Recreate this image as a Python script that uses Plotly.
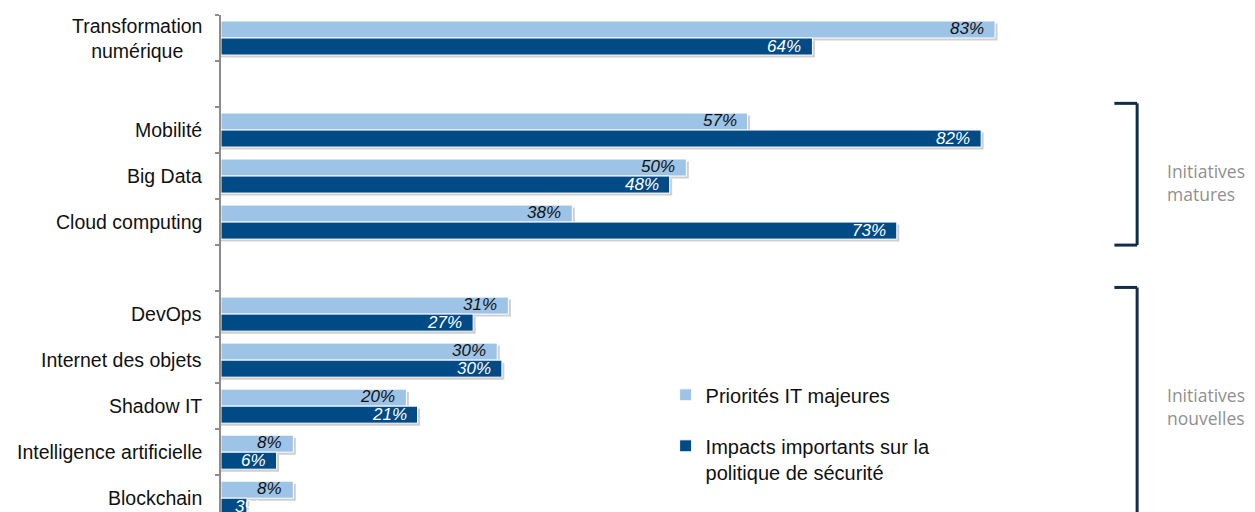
import plotly.graph_objects as go

categories = ["Transformation<br>numérique", None, "Mobilité", "Big Data", "Cloud computing", None,
              "DevOps", "Internet des objets", "Shadow IT", "Intelligence artificielle", "Blockchain"]
# bar lengths
priorites = [83.5, None, 56.8, 50.2, 37.9, None, 31.0, 29.8, 20.0, 7.8, 7.8]
impacts = [63.8, None, 82.0, 48.4, 72.9, None, 27.2, 30.3, 21.2, 6.0, 2.8]
# printed percentages
priorites_labels = ["83%", None, "57%", "50%", "38%", None, "31%", "30%", "20%", "8%", "8%"]
impacts_labels = ["64%", None, "82%", "48%", "73%", None, "27%", "30%", "21%", "6%", "3%"]
series_names = ["Priorités IT majeures", "Impacts importants sur la<br>politique de sécurité"]
groups = [("Initiatives<br>matures", 2, 4, False), ("Initiatives<br>nouvelles", 6, 10, True)]

LIGHT = "#9dc3e6"
DARK = "#004a86"
FONT = "Liberation Sans, Arial, sans-serif"
pos = list(range(len(categories)))
BARGAP = 0.26
PX_X = 9.27   # pixels per percent
PX_Y = 46.0   # pixels per category slot

fig = go.Figure()
fig.add_trace(go.Bar(y=pos, x=priorites, orientation="h", name=series_names[0],
                     marker=dict(color=LIGHT, line=dict(color="white", width=1)),
                     legendgroup="a"))
fig.add_trace(go.Bar(y=pos, x=impacts, orientation="h", name=series_names[1],
                     marker=dict(color=DARK, line=dict(color="white", width=1)),
                     legendgroup="b"))

half = (1 - BARGAP) / 2
off = half / 2
ann = []
shapes = []
for i in pos:
    for val, txt, yc, col, ys in ((priorites[i], priorites_labels[i], i - off, "#111111", 1.5),
                                  (impacts[i], impacts_labels[i], i + off, "white", 0)):
        if val is None:
            continue
        shapes.append(dict(type="rect", xref="x", yref="y", layer="below",
                           x0=0, x1=val + 2.5 / PX_X,
                           y0=yc - half / 2 + 2.5 / PX_Y, y1=yc + half / 2 + 2.5 / PX_Y,
                           fillcolor="#cfcfcf", line=dict(width=0)))
        if val * PX_X < 45:
            ann.append(dict(x=0, y=yc, xref="x", yref="y", text=txt, showarrow=False,
                            xanchor="left", xshift=12, yshift=ys,
                            font=dict(family=FONT, size=17, color=col, style="italic")))
        else:
            ann.append(dict(x=val, y=yc, xref="x", yref="y", text=txt, showarrow=False,
                            xanchor="right", xshift=-9, yshift=ys,
                            font=dict(family=FONT, size=17, color=col, style="italic")))
for i, c in enumerate(categories):
    if c:
        ann.append(dict(x=0, y=i, xref="x", yref="y", text=c, showarrow=False, align="center",
                        xanchor="right", xshift=-17,
                        font=dict(family=FONT, size=19.5, color="#111111")))

for label, a, b, open_end in groups:
    top = a - 0.5 - 0.08
    bot = b + 0.5
    xl, xr = 0.864, 0.886
    shapes.append(dict(type="line", xref="paper", yref="y", x0=xl, x1=xr, y0=top, y1=top,
                       line=dict(color="#132c4a", width=3)))
    shapes.append(dict(type="line", xref="paper", yref="y", x0=xr, x1=xr, y0=top, y1=bot + (1 if open_end else 0),
                       line=dict(color="#132c4a", width=3)))
    if not open_end:
        shapes.append(dict(type="line", xref="paper", yref="y", x0=xl, x1=xr, y0=bot, y1=bot,
                           line=dict(color="#132c4a", width=3)))
    ymid = (a + b) / 2 + (0.13 if not open_end else 0.0)
    ann.append(dict(x=0.913, y=ymid, xref="paper", yref="y", text=label, showarrow=False,
                    xanchor="left", align="left",
                    font=dict(family="Open Sans, sans-serif", size=17.5, color="#909090")))

fig.update_layout(
    width=1255, height=512,
    margin=dict(l=221, r=0, t=15, b=0),
    paper_bgcolor="white", plot_bgcolor="white",
    barmode="group", bargap=BARGAP, bargroupgap=0,
    showlegend=True,
    legend=dict(x=0.43, y=0.275, xanchor="left", yanchor="top", valign="top",
                font=dict(family=FONT, size=20, color="#111111"),
                tracegroupgap=22, bgcolor="rgba(0,0,0,0)", traceorder="grouped"),
    xaxis=dict(range=[0, 1034 / PX_X], visible=False, fixedrange=True),
    yaxis=dict(range=[10.30, -0.5], autorange=False, showticklabels=False,
               tickmode="array", tickvals=[k - 0.5 for k in range(len(categories) + 1)],
               ticks="outside", ticklen=4, tickwidth=1.5, tickcolor="#8c8c8c",
               showline=True, linecolor="#8c8c8c", linewidth=1.5, showgrid=False, zeroline=False),
    annotations=ann, shapes=shapes,
)
fig.write_html("out.html")
